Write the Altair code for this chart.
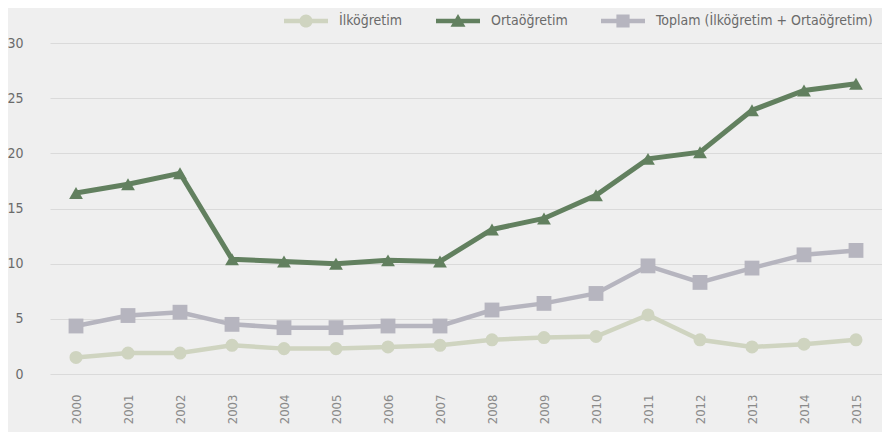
import altair as alt
import pandas as pd

years = [str(y) for y in range(2000, 2016)]
ilkogretim = [1.5, 1.9, 1.9, 2.6, 2.3, 2.3, 2.45, 2.6, 3.1, 3.3, 3.4, 5.35, 3.1, 2.45, 2.7, 3.1]
ortaogretim = [16.4, 17.2, 18.2, 10.4, 10.2, 10.0, 10.3, 10.2, 13.1, 14.1, 16.2, 19.5, 20.1, 23.9, 25.7, 26.3]
toplam = [4.35, 5.3, 5.6, 4.5, 4.2, 4.2, 4.35, 4.35, 5.8, 6.4, 7.3, 9.8, 8.3, 9.6, 10.8, 11.2]

series = ["İlköğretim", "Ortaöğretim", "Toplam (İlköğretim + Ortaöğretim)"]
colors = ["#cfd4c0", "#62805f", "#b6b5bf"]
marker_shapes = ["circle", "triangle-up", "square"]
marker_sizes = [170, 190, 220]
line_widths = [4.5, 5, 4.5]

# legend symbols: a short line with the marker on it (custom SVG paths)
legend_paths = [
    "M-1,-0.1H1V0.1H-1Z M0.3,0A0.3,0.3 0 1,1 -0.3,0A0.3,0.3 0 1,1 0.3,0Z",
    "M0,-0.32L0.34,0.26H-0.34Z M-1,-0.1H1V0.1H-1Z",
    "M-0.3,-0.3H0.3V0.3H-0.3Z M-1,-0.1H1V0.1H-1Z",
]

rows = []
for name, vals in zip(series, [ilkogretim, ortaogretim, toplam]):
    for yr, v in zip(years, vals):
        rows.append({"year": yr, "value": v, "series": name})
df = pd.DataFrame(rows)

FONT = "'Liberation Sans Narrow', 'DejaVu Sans Condensed', 'Roboto Condensed', 'Noto Sans', sans-serif"

x_enc = alt.X("year:O", title=None, sort=years,
              scale=alt.Scale(paddingOuter=0.5, paddingInner=0),
              axis=alt.Axis(labelAngle=-90, labelPadding=20, ticks=False, domain=False,
                            labelColor="#8a8a8a", labelFontSize=13, labelFont=FONT,
                            labelAlign="right", labelBaseline="middle"))
y_enc = alt.Y("value:Q", title=None,
              scale=alt.Scale(domain=[0, 30], nice=False),
              axis=alt.Axis(values=[0, 5, 10, 15, 20, 25, 30], ticks=False, domain=False,
                            labelPadding=27, labelColor="#6a6a6a", labelFontSize=14,
                            labelFont=FONT, gridColor="#dadada", gridWidth=1.2))

layers = []
for name, col, w in zip(series, colors, line_widths):
    layers.append(
        alt.Chart(df).transform_filter(alt.datum.series == name)
        .mark_line(color=col, strokeWidth=w)
        .encode(x=x_enc, y=y_enc)
    )
for name, col, shp, sz in zip(series, colors, marker_shapes, marker_sizes):
    layers.append(
        alt.Chart(df).transform_filter(alt.datum.series == name)
        .mark_point(filled=True, opacity=1, shape=shp, size=sz, color=col)
        .encode(x=x_enc, y=y_enc)
    )

legend_props = dict(title=None, orient="none", direction="horizontal",
                    legendX=234, legendY=-44, symbolSize=1936,
                    symbolStrokeWidth=0, symbolOpacity=1,
                    labelFont=FONT, labelFontSize=14, labelColor="#6a6a6a",
                    labelOffset=11, columnPadding=33, labelLimit=400)

legend_layer = alt.Chart(df).mark_point(filled=True, opacity=0, size=1).encode(
    x=x_enc, y=y_enc,
    color=alt.Color("series:N", scale=alt.Scale(domain=series, range=colors),
                    legend=alt.Legend(**legend_props)),
    shape=alt.Shape("series:N", scale=alt.Scale(domain=series, range=legend_paths),
                    legend=alt.Legend(**legend_props)),
)
layers.append(legend_layer)

chart = alt.layer(*layers).properties(
    width=832, height=331,
    autosize=alt.AutoSizeParams(type="none"),
    padding={"left": 42, "top": 35, "right": 0, "bottom": 58},
    background="#efefef",
).configure_view(stroke=None)

chart.save("out.html", embed_options={"renderer": "svg", "actions": False})
